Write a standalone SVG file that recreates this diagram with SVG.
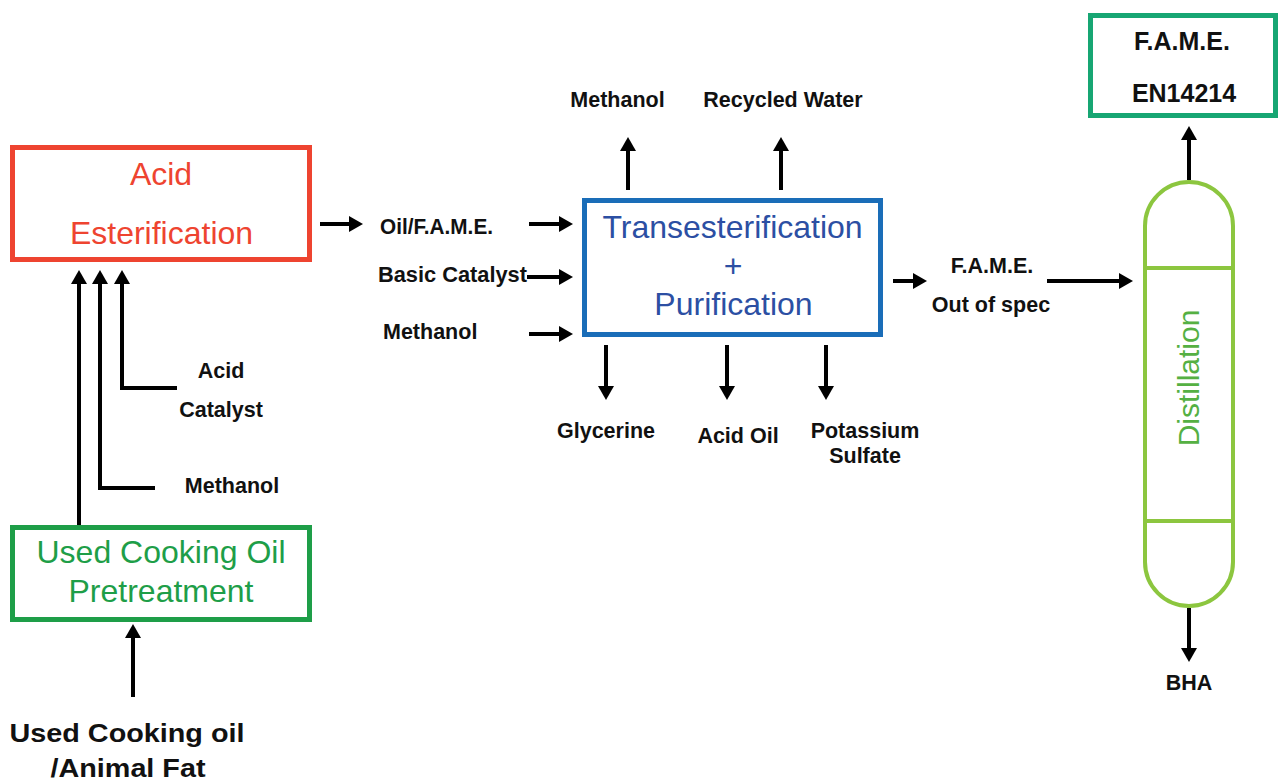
<svg xmlns="http://www.w3.org/2000/svg" width="1280" height="781" viewBox="0 0 1280 781">
  <style>
    .box { fill: #ffffff; stroke-width: 5; }
    .title { font-family: "Liberation Sans", Arial, sans-serif; font-size: 32px; text-anchor: middle; }
    .lbl { font-family: "Liberation Sans", Arial, sans-serif; font-size: 21.5px; font-weight: bold; fill: #111111; }
    .mid { text-anchor: middle; }
    .big { font-size: 26px; }
    .prod { font-size: 25px; }
    .col { font-size: 30px; }
    .flow { fill: none; stroke: #000000; stroke-width: 4; marker-end: url(#head); }
  </style>
  <defs>
    <marker id="head" viewBox="0 0 14 16" refX="0" refY="8" markerWidth="14" markerHeight="16" markerUnits="userSpaceOnUse" orient="auto">
      <path d="M0,0 L14,8 L0,16 Z" fill="#000000"/>
    </marker>
  </defs>
  <rect width="1280" height="781" fill="#ffffff"/>

  <!-- process units -->
  <g id="acid-esterification">
    <rect class="box" x="12.5" y="147.5" width="297" height="112" stroke="#EE4430"/>
    <text class="title" x="161" y="185" fill="#EE4430">Acid</text>
    <text class="title" x="161.5" y="244" fill="#EE4430">Esterification</text>
  </g>

  <g id="pretreatment">
    <rect class="box" x="12.5" y="527.5" width="297" height="92" stroke="#1E9E48"/>
    <text class="title" x="161" y="563" fill="#1E9E48">Used Cooking Oil</text>
    <text class="title" x="161" y="602" fill="#1E9E48">Pretreatment</text>
  </g>

  <g id="transesterification">
    <rect class="box" x="584.5" y="200.5" width="296" height="134" stroke="#1A6DB8"/>
    <text class="title" x="732.5" y="238" fill="#2C4FA3">Transesterification</text>
    <text class="title" x="733" y="277" fill="#2C4FA3">+</text>
    <text class="title" x="733.5" y="315" fill="#2C4FA3">Purification</text>
  </g>

  <g id="distillation">
    <path d="M1145,226 A44,44 0 0 1 1233,226 V562 A44,44 0 0 1 1145,562 Z" fill="#ffffff" stroke="#8CC63F" stroke-width="4"/>
    <line x1="1145" y1="268" x2="1233" y2="268" stroke="#8CC63F" stroke-width="4"/>
    <line x1="1145" y1="521" x2="1233" y2="521" stroke="#8CC63F" stroke-width="4"/>
    <text class="title col" transform="translate(1199,378) rotate(-90)" x="0" y="0" fill="#55B043">Distillation</text>
  </g>

  <g id="fame-product">
    <rect class="box" x="1090.5" y="15.5" width="185" height="100" stroke="#17A673"/>
    <text class="lbl mid prod" x="1182" y="50">F.A.M.E.</text>
    <text class="lbl mid prod" x="1184" y="102">EN14214</text>
  </g>

  <!-- stream labels -->
  <g id="feed-label">
    <text class="lbl mid big" x="127" y="742" textLength="235" lengthAdjust="spacingAndGlyphs">Used Cooking oil</text>
    <text class="lbl mid big" x="128" y="777" textLength="155" lengthAdjust="spacingAndGlyphs">/Animal Fat</text>
  </g>
  <g id="acid-catalyst-label">
    <text class="lbl mid" x="221" y="378">Acid</text>
    <text class="lbl mid" x="221" y="417">Catalyst</text>
  </g>
  <g id="methanol-in-label">
    <text class="lbl mid" x="232" y="493">Methanol</text>
  </g>
  <g id="oil-fame-label">
    <text class="lbl" x="380" y="234" textLength="113" lengthAdjust="spacingAndGlyphs">Oil/F.A.M.E.</text>
  </g>
  <g id="basic-catalyst-label">
    <text class="lbl" x="378" y="282" textLength="149" lengthAdjust="spacingAndGlyphs">Basic Catalyst</text>
  </g>
  <g id="methanol-feed-label">
    <text class="lbl" x="383" y="339">Methanol</text>
  </g>
  <g id="methanol-out-label">
    <text class="lbl mid" x="617.5" y="107">Methanol</text>
  </g>
  <g id="water-label">
    <text class="lbl mid" x="783" y="107">Recycled Water</text>
  </g>
  <g id="glycerine-label">
    <text class="lbl mid" x="606" y="438">Glycerine</text>
  </g>
  <g id="acid-oil-label">
    <text class="lbl mid" x="738" y="443">Acid Oil</text>
  </g>
  <g id="sulfate-label">
    <text class="lbl mid" x="865" y="438">Potassium</text>
    <text class="lbl mid" x="865" y="463">Sulfate</text>
  </g>
  <g id="off-spec-label">
    <text class="lbl mid" x="992" y="273">F.A.M.E.</text>
    <text class="lbl mid" x="991" y="312">Out of spec</text>
  </g>
  <g id="bha-label">
    <text class="lbl mid" x="1189" y="690">BHA</text>
  </g>

  <!-- connectors -->
  <g id="connectors">
    <path class="flow" d="M133,697 V638"/>
    <path class="flow" d="M79,525 V284"/>
    <path class="flow" d="M155,488 H100 V284"/>
    <path class="flow" d="M177,388 H122 V284"/>
    <path class="flow" d="M320,224 H349"/>
    <path class="flow" d="M529,224 H559"/>
    <path class="flow" d="M527,277 H559"/>
    <path class="flow" d="M529,334 H559"/>
    <path class="flow" d="M628,190 V151"/>
    <path class="flow" d="M781,190 V151"/>
    <path class="flow" d="M606,345 V386"/>
    <path class="flow" d="M727,345 V386"/>
    <path class="flow" d="M826,345 V386"/>
    <path class="flow" d="M893,281 H913"/>
    <path class="flow" d="M1047,281 H1119"/>
    <path class="flow" d="M1189,180 V140"/>
    <path class="flow" d="M1189,608 V648"/>
  </g>
</svg>
